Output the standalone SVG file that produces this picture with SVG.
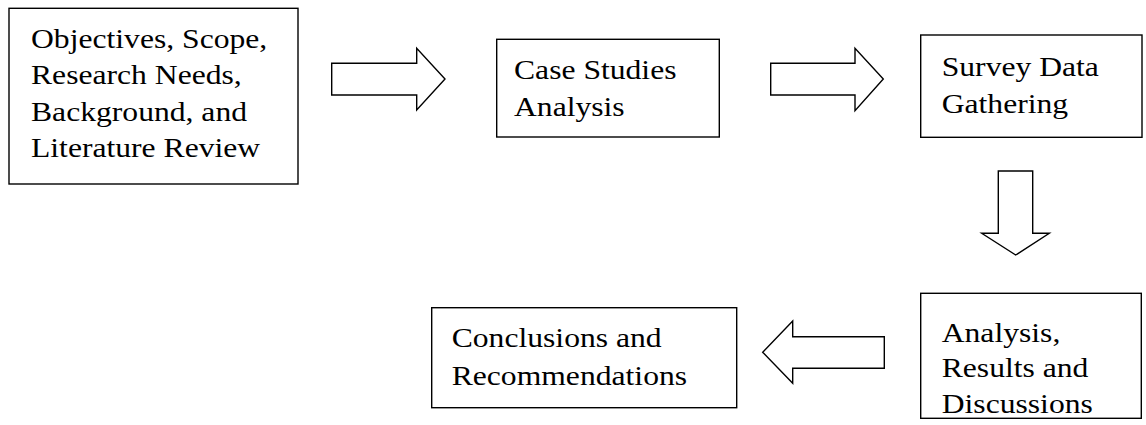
<svg xmlns="http://www.w3.org/2000/svg" width="1146" height="425" viewBox="0 0 1146 425">
<style>
.box{fill:#fff;stroke:#000;stroke-width:1.4}
.arr{fill:#fff;stroke:#000;stroke-width:1.4;stroke-linejoin:miter}
.t{font-family:"Liberation Serif","Times New Roman",serif;font-size:28px;fill:#000}
</style>
<rect width="1146" height="425" fill="#fff"/>
<g id="node-objectives">
<rect class="box" x="9" y="8.3" width="289" height="175.7"/>
<text class="t" transform="translate(31 0) scale(1.13 1)"><tspan x="0" y="47.7">Objectives, Scope,</tspan><tspan x="0" y="84.3">Research Needs,</tspan><tspan x="0" y="121">Background, and</tspan><tspan x="0" y="157.5">Literature Review</tspan></text>
</g>
<g id="node-case">
<rect class="box" x="496.7" y="39.3" width="222.6" height="97.7"/>
<text class="t" transform="translate(514 0) scale(1.13 1)"><tspan x="0" y="79.3">Case Studies</tspan><tspan x="0" y="116">Analysis</tspan></text>
</g>
<g id="node-survey">
<rect class="box" x="920.7" y="35" width="221.3" height="102.3"/>
<text class="t" transform="translate(941.7 0) scale(1.13 1)"><tspan x="0" y="76">Survey Data</tspan><tspan x="0" y="112.7">Gathering</tspan></text>
</g>
<g id="node-analysis">
<rect class="box" x="920.7" y="293.3" width="220.6" height="125"/>
<text class="t" transform="translate(941.7 0) scale(1.13 1)"><tspan x="0" y="341.7">Analysis,</tspan><tspan x="0" y="377.3">Results and</tspan><tspan x="0" y="412.7">Discussions</tspan></text>
</g>
<g id="node-conclusions">
<rect class="box" x="431.7" y="307.7" width="305" height="100"/>
<text class="t" transform="translate(451.7 0) scale(1.13 1)"><tspan x="0" y="347.3">Conclusions and</tspan><tspan x="0" y="385">Recommendations</tspan></text>
</g>
<g id="connectors">
<polygon class="arr" points="331.7,63.3 416.7,63.3 416.7,48.3 445,79 416.7,110 416.7,95 331.7,95"/>
<polygon class="arr" points="770.7,63.3 855,63.3 855,48.3 883.3,79 855,110.7 855,95 770.7,95"/>
<polygon class="arr" points="998.3,171 1032.7,171 1032.7,233.3 1049.3,233.3 1015.7,255 981.7,233.3 998.3,233.3"/>
<polygon class="arr" points="884.3,336.7 792.7,336.7 792.7,321 762.7,352.3 792.7,383.3 792.7,368.3 884.3,368.3"/>
</g>
</svg>
